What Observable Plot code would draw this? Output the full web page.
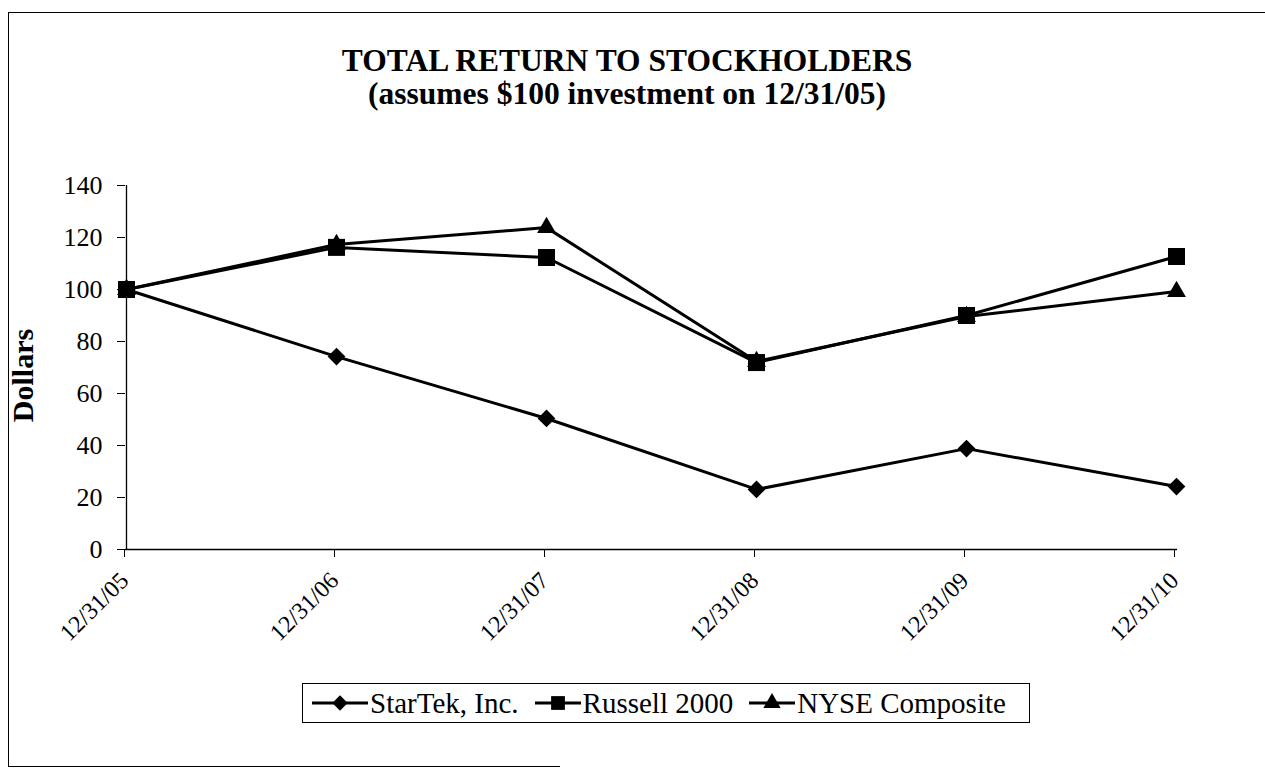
<!DOCTYPE html>
<html>
<head>
<meta charset="utf-8">
<script src="https://cdn.jsdelivr.net/npm/d3@7"></script>
<script src="https://cdn.jsdelivr.net/npm/@observablehq/plot@0.6"></script>
<style>
  html, body { margin: 0; padding: 0; background: #fff; overflow: hidden; }
  #wrap { position: relative; width: 1265px; height: 770px; overflow: hidden; font-family: "Liberation Serif", "Times New Roman", serif; color: #000; }
  #leftline { position: absolute; left: 8px; top: 12px; width: 0; height: 754px; border-left: 1.5px solid #000; }
  #topline { position: absolute; left: 8px; top: 12px; width: 1257px; height: 0; border-top: 1.5px solid #000; }
  #bottomline { position: absolute; left: 8px; top: 766px; width: 552px; height: 0; border-top: 1.5px solid #000; }
  #title { position: absolute; left: 627px; top: 44px; transform: translateX(-50%); text-align: center; font-weight: bold; font-size: 31.5px; line-height: 33px; white-space: nowrap; }
  #legend { position: absolute; left: 302px; top: 683px; width: 728px; height: 40px; border: 1px solid #000; display: flex; align-items: center; box-sizing: border-box; padding-left: 9px; font-size: 29px; white-space: nowrap; }
  #legend .item { display: flex; align-items: center; margin-right: 16px; }
  #legend svg { margin-right: 2px; }
  #chart { position: absolute; left: 0; top: 0; }
</style>
</head>
<body>
<div id="wrap">
  <div id="leftline"></div>
  <div id="topline"></div>
  <div id="bottomline"></div>
  <div id="chart"></div>
  <div id="title"></div>
  <div id="legend"></div>
</div>
<script>
// ---- data ----
const titleLines = ["TOTAL RETURN TO STOCKHOLDERS", "(assumes $100 investment on 12/31/05)"];
const yLabel = "Dollars";
const dates = ["12/31/05", "12/31/06", "12/31/07", "12/31/08", "12/31/09", "12/31/10"];
const seriesNames = ["StarTek, Inc.", "Russell 2000", "NYSE Composite"];
const startek = [100, 74.2, 50.4, 23.1, 38.8, 24.2];
const russell = [100, 116.2, 112.3, 71.9, 90.0, 112.7];
const nyse = [100, 117.3, 123.8, 72.3, 89.6, 99.2];
const yTicks = [0, 20, 40, 60, 80, 100, 120, 140];

const seriesValues = [startek, russell, nyse];
const symbols = ["diamond2", "square", "triangle"];
const radii = [8, 9.6, 7];

const rows = [];
seriesNames.forEach((s, i) => dates.forEach((d, j) => rows.push({series: s, date: d, value: seriesValues[i][j]})));

// ---- title ----
document.getElementById("title").innerHTML = titleLines.map(t => `<div>${t}</div>`).join("");

// ---- chart ----
const serifFont = "'Liberation Serif', 'Times New Roman', serif";
const marks = [
  Plot.ruleX([dates[0]], {y1: 0, y2: 140, stroke: "black", strokeWidth: 1.3}),
  Plot.ruleY([0], {stroke: "black", strokeWidth: 1.3}),
  Plot.axisY({ticks: yTicks, tickSize: 8, tickPadding: 15, fontSize: 26, label: null, tickFormat: d => String(d)}),
  Plot.axisX({tickRotate: -45, tickSize: 8, tickPadding: 19, fontSize: 24, label: null, dx: -2}),
  Plot.text([yLabel], {frameAnchor: "left", textAnchor: "middle", dx: -102, dy: 8, rotate: -90, fontSize: 30, fontWeight: "bold", fontFamily: serifFont, fill: "black"})
];
seriesNames.forEach((s, i) => {
  const d = rows.filter(r => r.series === s);
  marks.push(Plot.line(d, {x: "date", y: "value", stroke: "black", strokeWidth: 3}));
});
seriesNames.forEach((s, i) => {
  const d = rows.filter(r => r.series === s);
  marks.push(Plot.dot(d, {x: "date", y: "value", symbol: symbols[i], r: radii[i], fill: "black", stroke: "none"}));
});

const chart = Plot.plot({
  width: 1265,
  height: 770,
  marginLeft: 125,
  marginRight: 88,
  marginTop: 185,
  marginBottom: 221,
  style: {background: "transparent", fontFamily: serifFont, color: "black", overflow: "visible"},
  x: {type: "point", domain: dates, padding: 0},
  y: {domain: [0, 140]},
  marks
});
document.getElementById("chart").appendChild(chart);

// ---- legend ----
const legend = d3.select("#legend");
const legendSym = [d3.symbol(d3.symbolDiamond2, 150)(), d3.symbol(d3.symbolSquare, 190)(), d3.symbol(d3.symbolTriangle, 130)()];
const segW = [56, 46, 46];
seriesNames.forEach((s, i) => {
  const item = legend.append("div").attr("class", "item");
  const w = segW[i];
  const svg = item.append("svg").attr("width", w).attr("height", 24);
  svg.append("line").attr("x1", 0).attr("x2", w).attr("y1", 12).attr("y2", 12).attr("stroke", "black").attr("stroke-width", 3);
  svg.append("path").attr("d", legendSym[i]).attr("transform", `translate(${w / 2},12)`).attr("fill", "black");
  item.append("span").text(s);
});
</script>
</body>
</html>
